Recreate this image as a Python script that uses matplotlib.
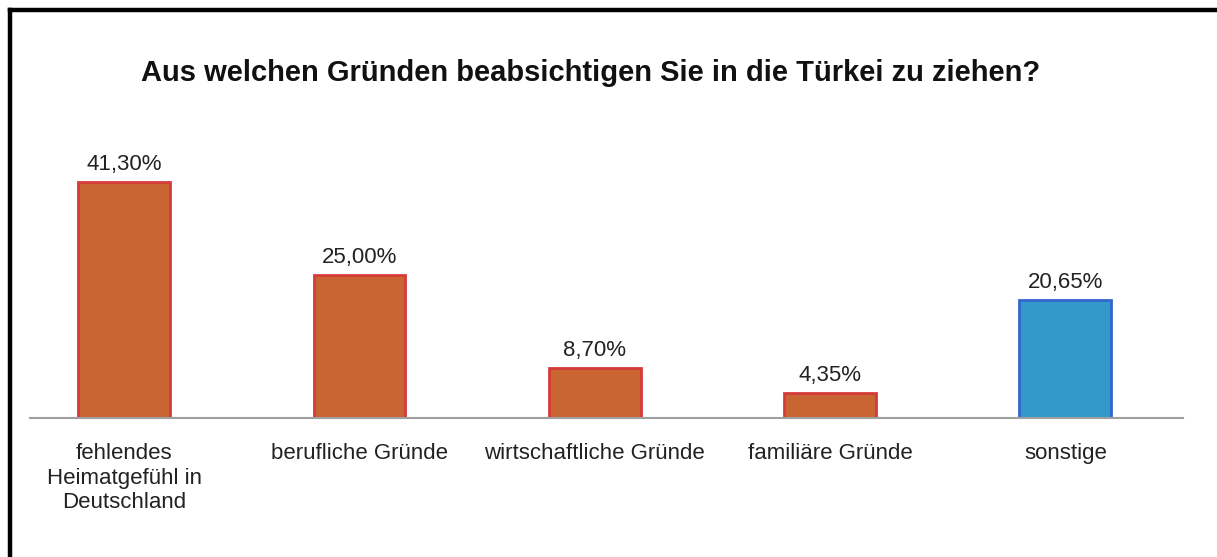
import matplotlib
matplotlib.use("Agg")
import matplotlib.pyplot as plt
from matplotlib.lines import Line2D

plt.rcParams['font.family'] = ['Liberation Sans', 'DejaVu Sans']

categories = ["fehlendes\nHeimatgefühl in\nDeutschland", "berufliche Gründe",
              "wirtschaftliche Gründe", "familiäre Gründe", "sonstige"]
values = [41.30, 25.00, 8.70, 4.35, 20.65]
value_labels = ["41,30%", "25,00%", "8,70%", "4,35%", "20,65%"]
fill_colors = ["#C96532", "#C96532", "#C96532", "#C96532", "#3399CC"]
edge_colors = ["#D63A3A", "#D63A3A", "#D63A3A", "#D63A3A", "#3366CC"]

fig = plt.figure(figsize=(12.17, 5.57), dpi=100)
ax = fig.add_axes([30 / 1217, 139 / 557, 1153 / 1217, 257 / 557])

x = range(len(values))
ax.bar(x, values, width=0.39, color=fill_colors, edgecolor=edge_colors, linewidth=2)
for xi, v, lab in zip(x, values, value_labels):
    ax.annotate(lab, (xi, v), xytext=(0, 5), textcoords="offset points",
                ha="center", va="bottom", fontsize=16, color="#222222")

ax.set_xlim(-0.4, 4.5)
ax.set_ylim(0, 45)
ax.set_yticks([])
ax.set_xticks(list(x))
ax.set_xticklabels(categories, fontsize=16, color="#222222", linespacing=1.22, va="top")
ax.tick_params(axis="x", length=0, pad=18)
for side in ["top", "right", "left"]:
    ax.spines[side].set_visible(False)
ax.spines["bottom"].set_color("#A0A0A0")
ax.spines["bottom"].set_linewidth(1.5)

fig.text(591 / 1217, 1 - 73 / 557, "Aus welchen Gründen beabsichtigen Sie in die Türkei zu ziehen?",
         ha="center", va="center", fontsize=21, fontweight="bold", color="#111111")

# black frame on the top and left
fig.add_artist(Line2D([9.5 / 1217, 9.5 / 1217], [0, 1 - 9.5 / 557], color="black", linewidth=3.2,
                      solid_capstyle="projecting", transform=fig.transFigure))
fig.add_artist(Line2D([9.5 / 1217, 1], [1 - 9.5 / 557, 1 - 9.5 / 557], color="black", linewidth=3.2,
                      solid_capstyle="projecting", transform=fig.transFigure))

fig.savefig("out.png", dpi=100)
